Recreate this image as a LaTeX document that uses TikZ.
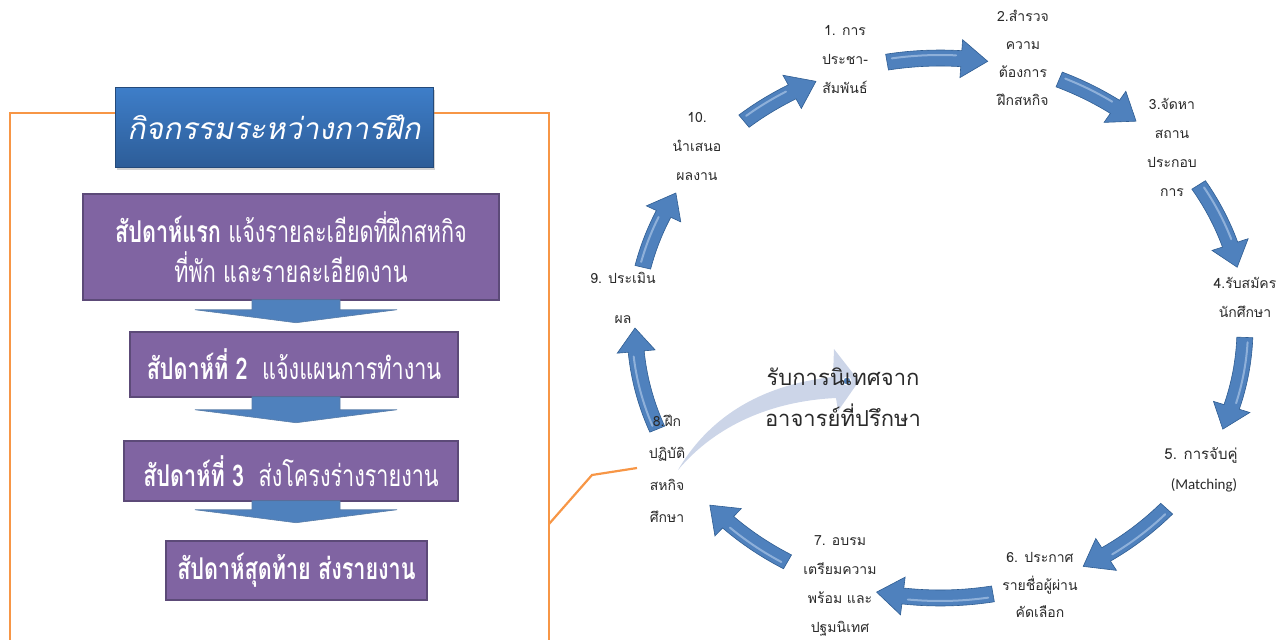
\documentclass[tikz,border=0pt]{standalone}
\usepackage{fontspec}
\newfontfamily\thai[Script=Thai]{Loma}
\newfontfamily\thaicond[Script=Thai,FakeStretch=0.72]{Loma}
\newfontfamily\thaititle[Script=Thai,FakeSlant=0.2]{Loma}
\newfontfamily\calib{Carlito}
\usetikzlibrary{shadows,calc}
\definecolor{arrblue}{HTML}{4F81BD}
\definecolor{arrdark}{HTML}{2F5D92}
\definecolor{arrhi}{HTML}{A9C4E6}
\definecolor{purp}{HTML}{8064A2}
\definecolor{purpdark}{HTML}{5C4A78}
\definecolor{orng}{HTML}{F79646}
\definecolor{ttop}{HTML}{3E7EC9}
\definecolor{tbot}{HTML}{2D5D98}
\definecolor{ghost}{HTML}{C3CEE4}
\definecolor{lbltxt}{HTML}{2A2A2A}
\tikzset{
  week/.style={draw=purpdark, line width=1.5pt, fill=purp, text=white,
    font=\thaicond\fontsize{30}{40}\selectfont, align=center, inner sep=0pt},
  downarrow/.style={fill=arrblue, draw=arrdark!80, line width=0.6pt},
  cycarrow/.style={fill=arrblue, draw=arrdark, line width=0.6pt},
  cychi/.style={draw=arrhi, line width=2pt, opacity=0.7, line cap=round},
  lbl/.style={font=\thai\fontsize{14}{29}\selectfont, text=lbltxt, align=center, inner sep=0pt},
  orangeline/.style={draw=orng, line width=2.2pt},
}
\newcommand\cyc[2]{%
  \pgfmathsetmacro\hb{#2+5}%
  \filldraw[cycarrow] plot[domain=#1:\hb,samples=14] ({940+313*cos(\x)},{328-278*sin(\x)})
    -- ({940+324*cos(\hb)},{328-289*sin(\hb)})
    -- ({940+305*cos(#2)},{328-270*sin(#2)})
    -- ({940+286*cos(\hb)},{328-251*sin(\hb)})
    -- plot[domain=\hb:#1,samples=14] ({940+297*cos(\x)},{328-262*sin(\x)}) -- cycle;
  \draw[cychi] plot[domain=#1-1:\hb+1,samples=14] ({940+308*cos(\x)},{328-273*sin(\x)});
}
\newcommand\downarr[2]{% #1 node above, #2 wing offset
  \filldraw[downarrow] (#1.south -| ax) ++(-44,-1) -- ++(88,0) -- ++(0,#2) -- ++(57,0)
    -- ++(-101,13) -- ++(-101,-13) -- ++(57,0) -- cycle;
}
\begin{document}
\begin{tikzpicture}[x=1pt,y=-1pt]
\useasboundingbox (0,0) rectangle (1286,640);
\coordinate (ax) at (296,0);
% orange frame
\draw[orangeline] (10,645) -- (10,113) -- (549,113) -- (549,645);
% title
\node[minimum width=318pt, minimum height=80pt, inner sep=0pt,
  top color=ttop, bottom color=tbot, draw=tbot!80!black, line width=0.4pt,
  drop shadow={shadow xshift=2pt, shadow yshift=-3pt, opacity=0.35},
  text=white, font=\thaititle\fontsize{30}{36}\selectfont] (title) at (274,127) {กิจกรรมระหว่างการฝึก};
% week boxes
\node[week, minimum width=416pt, minimum height=106pt] (w1) at (291,247)
  {{\bfseries สัปดาห์แรก} แจ้งรายละเอียดที่ฝึกสหกิจ\\ที่พัก และรายละเอียดงาน};
\node[week, minimum width=328pt, minimum height=65pt] (w2) at (294,364.5)
  {{\bfseries สัปดาห์ที่ 2}\ \ แจ้งแผนการทำงาน};
\node[week, minimum width=334pt, minimum height=60pt] (w3) at (291,471)
  {{\bfseries สัปดาห์ที่ 3}\ \ ส่งโครงร่างรายงาน};
\node[week, minimum width=261pt, minimum height=59pt] (w4) at (296.5,570.5)
  {\bfseries สัปดาห์สุดท้าย ส่งรายงาน};
\downarr{w1}{10}
\downarr{w2}{13}
\downarr{w3}{9}
% orange connector
\coordinate (ob) at (549,524);
\coordinate (oc) at (637,468);
\draw[orangeline] (ob) -- (592,475) -- (oc);
% ghost arrow
\fill[ghost, opacity=0.85] (678,470) .. controls (712,412) and (768,384) .. (833,377)
  -- (834,349) -- (859,381) -- (838,411) -- (836,398)
  .. controls (772,401) and (716,425) .. (678,470) -- cycle;
\filldraw[fill=arrblue, draw=white, line width=1pt] (847,381) circle (4pt);
% cycle arrows
\cyc{130}{114}
\cyc{100}{81}
\cyc{67}{50}
\cyc{32}{13}
\cyc{-2}{-22}
\cyc{-42}{-62}
\cyc{-80}{-102}
\cyc{-120}{-139}
\cyc{-158}{-180}
\cyc{167}{150}
% labels
\node[lbl] (l1) at (845,60) {1. การ\\ประชา-\\สัมพันธ์};
\node[lbl, font=\thai\fontsize{14}{28}\selectfont] (l2) at (1023,58) {2.สำรวจ\\ความ\\ต้องการ\\ฝึกสหกิจ};
\node[lbl] (l3) at (1172,147) {3.จัดหา\\สถาน\\ประกอบ\\การ};
\node[lbl] (l4) at (1245,297) {4.รับสมัคร\\นักศึกษา};
\node[lbl, font=\thai\fontsize{15}{18}\selectfont] (l5) at (1201,455) {5. การจับคู่};
\node[lbl, font=\calib\fontsize{15}{17}\selectfont] (l5b) at (1204,485) {(Matching)};
\node[lbl, font=\thai\fontsize{14}{27.5}\selectfont] (l6) at (1040,585) {6. ประกาศ\\รายชื่อผู้ผ่าน\\คัดเลือก};
\node[lbl] (l7) at (840,586) {7. อบรม\\เตรียมความ\\พร้อม และ\\ปฐมนิเทศ};
\node[lbl, font=\thai\fontsize{14}{32}\selectfont] (l8) at (667,469) {8.ฝึก\\ปฏิบัติ\\สหกิจ\\ศึกษา};
\node[lbl, font=\thai\fontsize{14}{40}\selectfont] (l9) at (623,298) {9. ประเมิน\\ผล};
\node[lbl] (l10) at (697,147) {10.\\นำเสนอ\\ผลงาน};
\node[lbl, font=\thai\fontsize{22}{41}\selectfont] (sup) at (843,397) {รับการนิเทศจาก\\อาจารย์ที่ปรึกษา};
\end{tikzpicture}
\end{document}
